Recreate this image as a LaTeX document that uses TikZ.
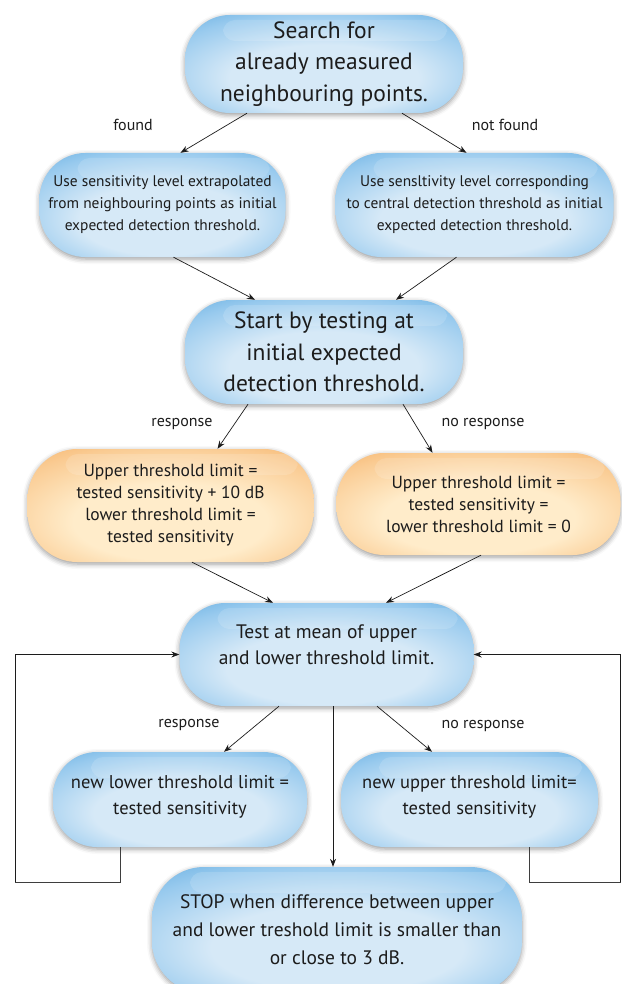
\documentclass[tikz,border=0pt]{standalone}
\usepackage{fontspec}
\setmainfont{PT Sans}
\usetikzlibrary{arrows.meta,shadows.blur,calc}

% colour palette of the glossy boxes
\definecolor{blueEdge}{RGB}{98,172,224}
\definecolor{blueMid}{RGB}{152,202,238}
\definecolor{blueLight}{RGB}{214,233,247}
\definecolor{orEdge}{RGB}{246,176,100}
\definecolor{orMid}{RGB}{250,204,148}
\definecolor{orLight}{RGB}{255,236,202}
\definecolor{ink}{RGB}{28,28,28}

% radial fills, centre slightly below the middle
\pgfdeclareradialshading{pillblue}{\pgfpoint{0bp}{-10bp}}{%
  color(0bp)=(blueLight); color(17bp)=(blueLight); color(31bp)=(blueMid);
  color(41bp)=(blueEdge); color(60bp)=(blueEdge)}
\pgfdeclareradialshading{pillorange}{\pgfpoint{0bp}{-10bp}}{%
  color(0bp)=(orLight); color(17bp)=(orLight); color(31bp)=(orMid);
  color(41bp)=(orEdge); color(60bp)=(orEdge)}

\tikzset{
  pill/.style={rectangle, rounded corners=#1, inner sep=0pt, align=center,
    text=ink, shade, shading=pillblue,
    blur shadow={shadow xshift=0pt, shadow yshift=-2pt,
      shadow blur radius=5pt, shadow opacity=40},
    path picture={\fill[white, fill opacity=0.14, rounded corners=12pt]
      ([xshift=38pt, yshift=-5pt]path picture bounding box.north west) rectangle
      ([xshift=-16pt, yshift=-26pt]path picture bounding box.north east);}},
  pill/.default=44pt,
  orangepill/.style={pill=#1, shading=pillorange},
  orangepill/.default=46pt,
  arr/.style={draw=ink, line width=0.7pt, -{Stealth[length=8pt, width=6pt]}},
  loopline/.style={draw=ink!85, line width=0.7pt},
  lbl/.style={font=\fontsize{16}{19}\selectfont, text=ink, inner sep=0pt},
  bigtxt/.style={font=\fontsize{23.5}{31.5}\selectfont},
  midtxt/.style={font=\fontsize{15.4}{22}\selectfont},
  ortxt/.style={font=\fontsize{17.5}{22}\selectfont},
  testtxt/.style={font=\fontsize{19.5}{26.5}\selectfont},
  newtxt/.style={font=\fontsize{18.5}{26}\selectfont},
}

\begin{document}
\begin{tikzpicture}[x=1pt, y=-1pt]
\useasboundingbox (0,0) rectangle (621,984);

% boxes
\node[pill=45pt, bigtxt, minimum width=278pt, minimum height=98pt] (search) at (324,64)
  {Search for\\already measured\\neighbouring points.};
\node[pill=46pt, midtxt, minimum width=246pt, minimum height=104pt] (extra) at (162.5,205)
  {Use sensitivity level extrapolated\\from neighbouring points as initial\\expected detection threshold.};
\node[pill=46pt, midtxt, minimum width=278pt, minimum height=104pt] (central) at (474.5,205)
  {Use sensltivity level corresponding\\to central detection threshold as initial\\expected detection threshold.};
\node[pill=46pt, bigtxt, minimum width=278pt, minimum height=104pt] (start) at (324,352)
  {Start by testing at\\initial expected\\detection threshold.};
\node[orangepill=50pt, ortxt, minimum width=286pt, minimum height=113pt] (orresp) at (170.5,505.5)
  {Upper threshold limit =\\tested sensitivity + 10 dB\\lower threshold limit =\\tested sensitivity};
\node[orangepill=48pt, ortxt, minimum width=284pt, minimum height=102pt] (ornoresp) at (478.5,504)
  {Upper threshold limit =\\tested sensitivity =\\lower threshold limit = 0};
\node[pill=46pt, testtxt, minimum width=294pt, minimum height=103pt] (test) at (326.5,654.5)
  {Test at mean of upper\\and lower threshold limit.\rule[-20pt]{0pt}{20pt}};
\node[pill=44pt, newtxt, minimum width=254pt, minimum height=95pt] (newlow) at (180,799.5)
  {new lower threshold limit =\\tested sensitivity\rule[-10pt]{0pt}{10pt}};
\node[pill=44pt, newtxt, minimum width=257pt, minimum height=95pt] (newup) at (469.5,799.5)
  {new upper threshold limit=\\tested sensitivity\rule[-10pt]{0pt}{10pt}};
\node[pill=52pt, font=\fontsize{19.5}{28}\selectfont, minimum width=370pt, minimum height=126pt] (stop) at (337,930)
  {STOP when difference between upper\\and lower treshold limit is smaller than\\or close to 3 dB.};

% branch labels
\node[lbl] (lfound) at (133,125) {found};
\node[lbl] (lnotfound) at (505,125) {not found};
\node[lbl] (lresp1) at (182,424) {response};
\node[lbl] (lnoresp1) at (483,424) {no response};
\node[lbl] (lresp2) at (189,725) {response};
\node[lbl] (lnoresp2) at (483,726) {no response};

% connectors
\draw[arr] ([xshift=-77pt]search.south) -- ([xshift=18pt]extra.north);
\draw[arr] ([xshift=78pt]search.south) -- ([xshift=-8pt]central.north);
\draw[arr] ([xshift=11pt]extra.south) -- ([xshift=-69pt]start.north);
\draw[arr] ([xshift=-18pt]central.south) -- ([xshift=72pt]start.north);
\draw[arr] ([xshift=-76pt]start.south) -- ([xshift=47pt]orresp.north);
\draw[arr] ([xshift=79pt]start.south) -- ([xshift=-46pt]ornoresp.north);
\draw[arr] ([xshift=21.5pt]orresp.south) -- ([xshift=-53.5pt]test.north);
\draw[arr] ([xshift=2.5pt]ornoresp.south) -- ([xshift=59.5pt]test.north);
\draw[arr] ([xshift=-47.5pt]test.south) -- ([xshift=44pt]newlow.north);
\draw[arr] ([xshift=50.5pt]test.south) -- ([xshift=-37.5pt]newup.north);
\draw[arr] ([xshift=6.5pt]test.south) -- ([xshift=6.5pt]test.south |- stop.north);

% feedback loops back to the test box
\coordinate (loopL) at (15,882);
\coordinate (loopR) at (620.5,882);
\draw[loopline] ([xshift=-60pt]newlow.south) |- (loopL);
\draw[arr] (loopL) |- (test.west);
\draw[loopline] ([xshift=59.5pt]newup.south) |- (loopR);
\draw[arr] (loopR) |- (test.east);
\end{tikzpicture}
\end{document}
